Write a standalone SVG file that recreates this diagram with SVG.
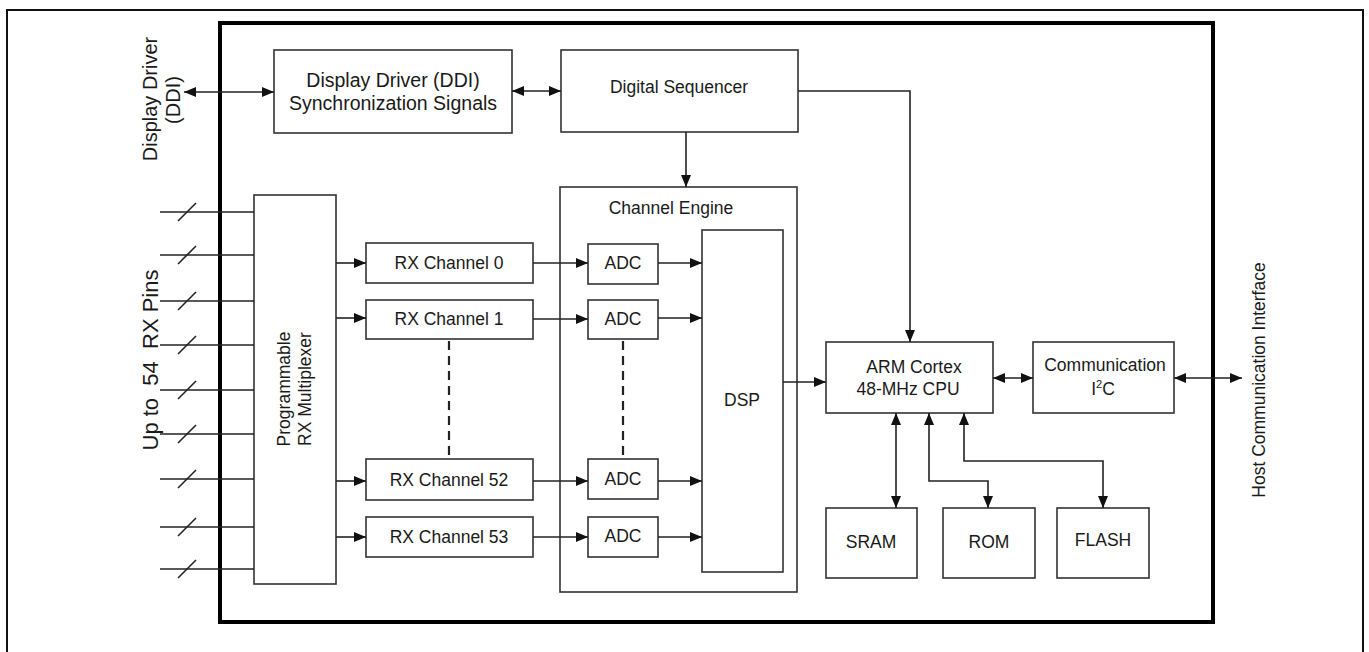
<svg xmlns="http://www.w3.org/2000/svg" width="1369" height="652" viewBox="0 0 1369 652">
<defs>
<marker id="ah" markerUnits="userSpaceOnUse" markerWidth="13" markerHeight="10" refX="12" refY="5" orient="auto-start-reverse">
<path d="M0,0 L12,5 L0,10 z" fill="#111"/>
</marker>
<style>
.box{fill:#fff;stroke:#333;stroke-width:1.6}
.t{font-family:"Liberation Sans",Arial,sans-serif;font-size:17.5px;fill:#1a1a1a;text-anchor:middle}
.c{fill:none;stroke:#222;stroke-width:1.6}
.a{fill:none;stroke:#222;stroke-width:1.6;marker-end:url(#ah)}
.aa{fill:none;stroke:#222;stroke-width:1.6;marker-end:url(#ah);marker-start:url(#ah)}
.d{fill:none;stroke:#222;stroke-width:2.2;stroke-dasharray:9,6}
.pin{fill:none;stroke:#222;stroke-width:1.6}
</style>
</defs>
<rect width="1369" height="652" fill="#fff"/>
<path d="M7,660 L7,10 L1363,10 L1363,660" fill="none" stroke="#111" stroke-width="2"/>
<rect x="220" y="23" width="993" height="599" fill="none" stroke="#000" stroke-width="4"/>

<g id="labels">
<text class="t" style="font-size:20px" transform="translate(157,99) rotate(-90)">Display Driver</text>
<text class="t" style="font-size:20px" transform="translate(180,100) rotate(-90)">(DDI)</text>
<text class="t" style="font-size:22px" transform="translate(158,360) rotate(-90)" xml:space="preserve">Up to  54  RX Pins</text>
<text class="t" transform="translate(1265,380) rotate(-90)">Host Communication Interface</text>
</g>

<g id="ddi">
<rect class="box" x="274" y="50" width="238" height="83"/>
<text class="t" style="font-size:19.5px" x="393" y="87">Display Driver (DDI)</text>
<text class="t" style="font-size:19.5px" x="393" y="110">Synchronization Signals</text>
</g>
<g id="seq">
<rect class="box" x="561" y="50" width="237" height="82"/>
<text class="t" x="679" y="93">Digital Sequencer</text>
</g>
<g id="mux">
<rect class="box" x="254" y="195" width="82" height="389"/>
<text class="t" transform="translate(290,389) rotate(-90)">Programmable</text>
<text class="t" transform="translate(311,389) rotate(-90)">RX Multiplexer</text>
</g>
<g id="engine">
<rect class="box" x="560" y="187" width="237" height="405"/>
<text class="t" x="671" y="214">Channel Engine</text>
</g>
<g id="rx0"><rect class="box" x="366" y="243" width="167" height="40"/><text class="t" x="449" y="269">RX Channel 0</text></g>
<g id="rx1"><rect class="box" x="366" y="300" width="167" height="39"/><text class="t" x="449" y="325">RX Channel 1</text></g>
<g id="rx52"><rect class="box" x="366" y="459" width="167" height="41"/><text class="t" x="449" y="486">RX Channel 52</text></g>
<g id="rx53"><rect class="box" x="366" y="517" width="167" height="40"/><text class="t" x="449" y="543">RX Channel 53</text></g>
<g id="adc0"><rect class="box" x="588" y="244" width="70" height="40"/><text class="t" x="623" y="269">ADC</text></g>
<g id="adc1"><rect class="box" x="588" y="300" width="70" height="39"/><text class="t" x="623" y="325">ADC</text></g>
<g id="adc52"><rect class="box" x="588" y="459" width="70" height="40"/><text class="t" x="623" y="485">ADC</text></g>
<g id="adc53"><rect class="box" x="588" y="517" width="70" height="40"/><text class="t" x="623" y="542">ADC</text></g>
<g id="dsp"><rect class="box" x="702" y="230" width="81" height="342"/><text class="t" x="742" y="406">DSP</text></g>
<g id="arm">
<rect class="box" x="826" y="342" width="167" height="71"/>
<text class="t" x="914" y="373">ARM Cortex</text>
<text class="t" x="908" y="395">48-MHz CPU</text>
</g>
<g id="comm">
<rect class="box" x="1033" y="342" width="141" height="71"/>
<text class="t" x="1105" y="371">Communication</text>
<text class="t" x="1103" y="395">I<tspan dy="-7" style="font-size:11px">2</tspan><tspan dy="7">C</tspan></text>
</g>
<g id="sram"><rect class="box" x="826" y="508" width="91" height="70"/><text class="t" x="871" y="548">SRAM</text></g>
<g id="rom"><rect class="box" x="943" y="508" width="92" height="70"/><text class="t" x="989" y="548">ROM</text></g>
<g id="flash"><rect class="box" x="1057" y="508" width="92" height="70"/><text class="t" x="1103" y="546">FLASH</text></g>

<g id="connectors">
<line class="aa" x1="184" y1="92" x2="274" y2="92"/>
<line class="aa" x1="512" y1="91" x2="561" y2="91"/>
<line class="a" x1="686" y1="132" x2="686" y2="187"/>
<polyline class="a" points="798,91 910,91 910,342"/>
<g class="pin">
<line x1="160" y1="212" x2="254" y2="212"/><line x1="178" y1="221" x2="196" y2="203"/>
<line x1="160" y1="255" x2="254" y2="255"/><line x1="178" y1="264" x2="196" y2="246"/>
<line x1="160" y1="301" x2="254" y2="301"/><line x1="178" y1="310" x2="196" y2="292"/>
<line x1="160" y1="345" x2="254" y2="345"/><line x1="178" y1="354" x2="196" y2="336"/>
<line x1="160" y1="390" x2="254" y2="390"/><line x1="178" y1="399" x2="196" y2="381"/>
<line x1="160" y1="434" x2="254" y2="434"/><line x1="178" y1="443" x2="196" y2="425"/>
<line x1="160" y1="479" x2="254" y2="479"/><line x1="178" y1="488" x2="196" y2="470"/>
<line x1="160" y1="527" x2="254" y2="527"/><line x1="178" y1="536" x2="196" y2="518"/>
<line x1="160" y1="569" x2="254" y2="569"/><line x1="178" y1="578" x2="196" y2="560"/>
</g>
<line class="a" x1="336" y1="263" x2="366" y2="263"/>
<line class="a" x1="336" y1="318" x2="366" y2="318"/>
<line class="a" x1="336" y1="481" x2="366" y2="481"/>
<line class="a" x1="336" y1="537" x2="366" y2="537"/>
<line class="a" x1="533" y1="263" x2="588" y2="263"/>
<line class="a" x1="533" y1="319" x2="588" y2="319"/>
<line class="a" x1="533" y1="481" x2="588" y2="481"/>
<line class="a" x1="533" y1="537" x2="588" y2="537"/>
<line class="a" x1="658" y1="263" x2="702" y2="263"/>
<line class="a" x1="658" y1="318" x2="702" y2="318"/>
<line class="a" x1="658" y1="481" x2="702" y2="481"/>
<line class="a" x1="658" y1="537" x2="702" y2="537"/>
<line class="d" x1="449" y1="341" x2="449" y2="459"/>
<line class="d" x1="623" y1="341" x2="623" y2="459"/>
<line class="a" x1="783" y1="382" x2="826" y2="382"/>
<line class="aa" x1="993" y1="378" x2="1033" y2="378"/>
<line class="aa" x1="1174" y1="378" x2="1242" y2="378"/>
<line class="aa" x1="896" y1="413" x2="896" y2="508"/>
<polyline class="aa" points="929,413 929,481 988,481 988,508"/>
<polyline class="aa" points="964,413 964,461 1103,461 1103,508"/>
</g>
</svg>
